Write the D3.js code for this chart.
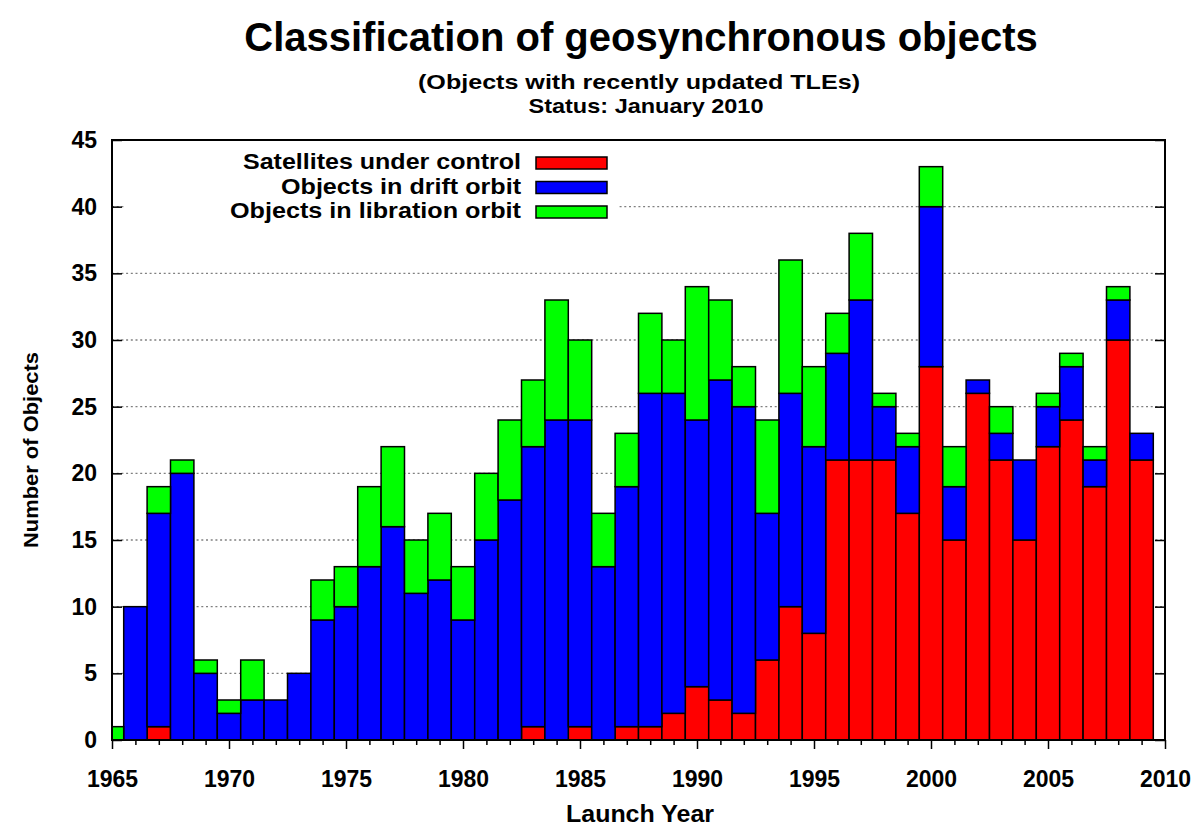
<!DOCTYPE html>
<html>
<head>
<meta charset="utf-8">
<script src="https://cdnjs.cloudflare.com/ajax/libs/d3/7.8.5/d3.min.js"></script>
<style>
  body { margin: 0; background: #fff; }
  svg { font-family: "Liberation Sans", Arial, sans-serif; font-weight: bold; }
</style>
</head>
<body>
<svg width="1200" height="829"></svg>
<script>
// launch years and the three stacked components
var years = d3.range(1965, 2010);
var underControl = [0,0,1,0,0,0,0,0,0,0, 0,0,0,0,0,0,0,0,1,0, 1,0,1,1,2,4,3,2,6,10, 8,21,21,21,17,28,15,26,21,15, 22,24,19,30,21];
var driftOrbit   = [0,10,16,20,5,2,3,3,5,9, 10,13,16,11,12,9,15,18,21,24, 23,13,18,25,24,20,24,23,11,16, 14,8,12,4,5,12,4,1,2,6, 3,4,2,3,2];
var librationOrbit = [1,0,2,1,1,1,3,0,0,3, 3,6,6,4,5,4,5,6,5,9, 6,4,4,6,4,10,6,3,7,10, 6,3,5,1,1,3,3,0,2,0, 1,1,1,1,0];
var seriesNames = ["Satellites under control", "Objects in drift orbit", "Objects in libration orbit"];
var seriesColors = ["#ff0000", "#0000ff", "#00ff00"];
var yTicks = [0,5,10,15,20,25,30,35,40,45];
var xTicks = [1965,1970,1975,1980,1985,1990,1995,2000,2005,2010];

// plot box
var plotLeft = 112, plotRight = 1165, plotTop = 140, plotBottom = 740;
var svg = d3.select("svg");

var xScale = d3.scaleLinear().domain([1965, 2010]).range([plotLeft, plotRight]);
var yScale = d3.scaleLinear().domain([0, 45]).range([plotBottom, plotTop]);

// titles
svg.append("text").attr("x", 641).attr("y", 51).attr("text-anchor", "middle")
  .style("font-size", "40px").text("Classification of geosynchronous objects");
svg.append("text").attr("x", 639).attr("y", 89).attr("text-anchor", "middle")
  .style("font-size", "21px").attr("textLength", 442).attr("lengthAdjust", "spacingAndGlyphs")
  .text("(Objects with recently updated TLEs)");
svg.append("text").attr("x", 646).attr("y", 113).attr("text-anchor", "middle")
  .style("font-size", "21px").attr("textLength", 235).attr("lengthAdjust", "spacingAndGlyphs")
  .text("Status: January 2010");

// grid lines (behind bars)
svg.append("g").selectAll("line")
  .data(yTicks.filter(d => d > 0 && d < 45))
  .enter().append("line")
  .attr("x1", plotLeft).attr("x2", plotRight)
  .attr("y1", d => yScale(d)).attr("y2", d => yScale(d))
  .attr("stroke", "#808080").attr("stroke-width", 1.3)
  .attr("stroke-dasharray", "2,2.7");

// stack the data
var table = years.map(function (y, i) {
  return { year: y, a: underControl[i], b: driftOrbit[i], c: librationOrbit[i] };
});
var stacked = d3.stack().keys(["a", "b", "c"])(table);

svg.append("clipPath").attr("id", "plotclip").append("rect")
  .attr("x", plotLeft).attr("y", plotTop)
  .attr("width", plotRight - plotLeft).attr("height", plotBottom - plotTop);

var bars = svg.append("g").attr("clip-path", "url(#plotclip)");
stacked.forEach(function (layer, k) {
  bars.append("g").selectAll("rect")
    .data(layer.filter(d => d[1] - d[0] > 0))
    .enter().append("rect")
    .attr("x", d => xScale(d.data.year - 0.5))
    .attr("width", d => xScale(d.data.year + 0.5) - xScale(d.data.year - 0.5))
    .attr("y", d => yScale(d[1]))
    .attr("height", d => yScale(d[0]) - yScale(d[1]))
    .attr("fill", seriesColors[k])
    .attr("stroke", "#000").attr("stroke-width", 1.5);
});

// legend (opaque box hides grid behind it)
var legendWidths = [278, 240, 291];
svg.append("rect").attr("x", 124).attr("y", 146).attr("width", 494).attr("height", 78).attr("fill", "#fff");
var legend = svg.append("g").selectAll("g").data(seriesNames).enter().append("g");
legend.append("text").attr("x", 521).attr("y", (d, i) => 169 + i * 24.5)
  .attr("text-anchor", "end").style("font-size", "22px")
  .attr("textLength", (d, i) => legendWidths[i]).attr("lengthAdjust", "spacingAndGlyphs")
  .text(d => d);
legend.append("rect").attr("x", 536).attr("y", (d, i) => 157 + i * 24.5)
  .attr("width", 71).attr("height", 12)
  .attr("fill", (d, i) => seriesColors[i]).attr("stroke", "#000").attr("stroke-width", 1.5);

// axes
var xAxis = d3.axisBottom(xScale).tickValues(xTicks).tickSize(9).tickPadding(22).tickFormat(d3.format("d"));
var xMinor = d3.axisBottom(xScale).tickValues(years.filter(y => y % 5 != 0)).tickSize(5).tickFormat("");
var yAxis = d3.axisLeft(yScale).tickValues(yTicks).tickSize(-10).tickPadding(15);
var yRight = d3.axisRight(yScale).tickValues(yTicks).tickSize(-10).tickFormat("");

function style(g) {
  g.select(".domain").remove();
  g.selectAll("line").attr("stroke", "#000").attr("stroke-width", 1.5);
  g.selectAll("text").style("font-size", "23px").attr("fill", "#000");
}
svg.append("g").attr("transform", `translate(0,${plotBottom})`).call(xMinor).call(style);
svg.append("g").attr("transform", `translate(0,${plotBottom})`).call(xAxis).call(style);
svg.append("g").attr("transform", `translate(${plotLeft},0)`).call(yAxis).call(style);
svg.append("g").attr("transform", `translate(${plotRight},0)`).call(yRight).call(style);

// frame
svg.append("rect").attr("x", plotLeft).attr("y", plotTop)
  .attr("width", plotRight - plotLeft).attr("height", plotBottom - plotTop)
  .attr("fill", "none").attr("stroke", "#000").attr("stroke-width", 2);

// axis titles
svg.append("text").attr("x", 640).attr("y", 822).attr("text-anchor", "middle")
  .style("font-size", "23px").attr("textLength", 148).attr("lengthAdjust", "spacingAndGlyphs")
  .text("Launch Year");
svg.append("text").attr("transform", "translate(38,450) rotate(-90)").attr("text-anchor", "middle")
  .style("font-size", "21px").attr("textLength", 196).attr("lengthAdjust", "spacingAndGlyphs")
  .text("Number of Objects");
</script>
</body>
</html>
